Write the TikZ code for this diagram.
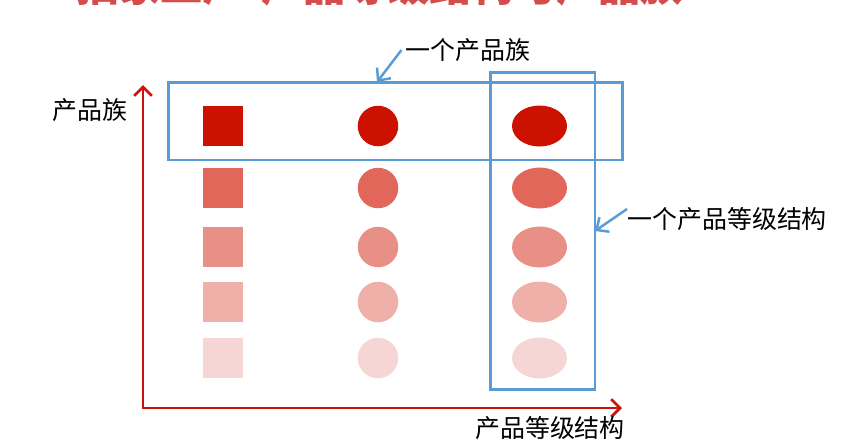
\documentclass[tikz,border=0pt]{standalone}
\usepackage{fontspec}
\newfontfamily\cjk{Noto Sans CJK SC}
\usepackage{xcolor}
\usetikzlibrary{arrows.meta, positioning, shapes.geometric}
\definecolor{cred1} {RGB}{204,17,0}
\definecolor{cred2} {RGB}{226,103,91}
\definecolor{cred3} {RGB}{232,143,134}
\definecolor{cred4} {RGB}{239,176,170}
\definecolor{cred5} {RGB}{246,214,212}
\definecolor{caxis} {RGB}{200,20,10}
\definecolor{cblue} {RGB}{91,155,213}
\definecolor{ctitle}{RGB}{212,76,76}
\tikzset{
  sq/.style={rectangle, fill=#1, minimum size=0.8cm, inner sep=0pt},
  dot/.style={circle, fill=#1, minimum size=0.81cm, inner sep=0pt},
  egg/.style={ellipse, fill=#1, minimum width=1.1cm, minimum height=0.82cm, inner sep=0pt},
  frame/.style={rectangle, draw=cblue, line width=1.7pt, outer sep=0pt, inner sep=0pt},
  axis/.style={{Straight Barb[length=5pt,width=10pt]}-{Straight Barb[length=5pt,width=10pt]},
               line width=1.6pt, draw=caxis},
  pointer/.style={-{Straight Barb[length=5.5pt,width=10pt]}, line width=1.4pt, draw=cblue},
  lbl/.style={font=\cjk\fontsize{14.2}{17}\selectfont, inner sep=0pt},
}

\begin{document}
\begin{tikzpicture}[x=0.02cm, y=-0.02cm]
  \useasboundingbox (0,0) rectangle (862,441);

  % ── Title (cut by the page top) ────────────────────────────────────────────
  \begin{scope}
    \clip (0,0) rectangle (862,441);
    \node[font=\cjk\bfseries\fontsize{24}{28}\selectfont, text=ctitle,
          anchor=base west, inner sep=0pt] (title) at (76,1)
        {抽象工厂-产品等级结构与产品族};
  \end{scope}

  % ── Axes ───────────────────────────────────────────────────────────────────
  \coordinate (origin) at (143,408);
  \coordinate (ytop)   at (143,85);
  \coordinate (xend)   at (622,408);
  \draw[axis] (ytop) -- (origin) -- (xend);
  \node[lbl] (famaxis) at (90,110)  {产品族};
  \node[lbl] (grdaxis) at (550,428) {产品等级结构};

  % ── Products ───────────────────────────────────────────────────────────────
  \foreach \y/\c [count=\i] in {126/cred1, 188/cred2, 247/cred3, 302/cred4, 358/cred5} {
    \node[sq=\c]  (sq\i)  at (223,\y)   {};
    \node[dot=\c] (dot\i) at (378,\y)   {};
    \node[egg=\c] (egg\i) at (539.5,\y) {};
  }

  % ── Family and grade frames ────────────────────────────────────────────────
  \node[frame, minimum width=9.1cm, minimum height=1.56cm] (famrect) at (395.5,121) {};
  \node[frame, minimum width=2.1cm, minimum height=6.36cm] (grdrect) at (542.5,231) {};

  % ── Callouts ───────────────────────────────────────────────────────────────
  \node[lbl, anchor=west] (famlbl) at (405,50)  {一个产品族};
  \node[lbl, anchor=west] (grdlbl) at (627,219) {一个产品等级结构};
  \draw[pointer] ([xshift=-2pt]famlbl.west) -- ([xshift=-0.37cm]famrect.north);
  \draw[pointer] ([yshift=0.2cm]grdlbl.west) -- (grdrect.east);
\end{tikzpicture}
\end{document}
